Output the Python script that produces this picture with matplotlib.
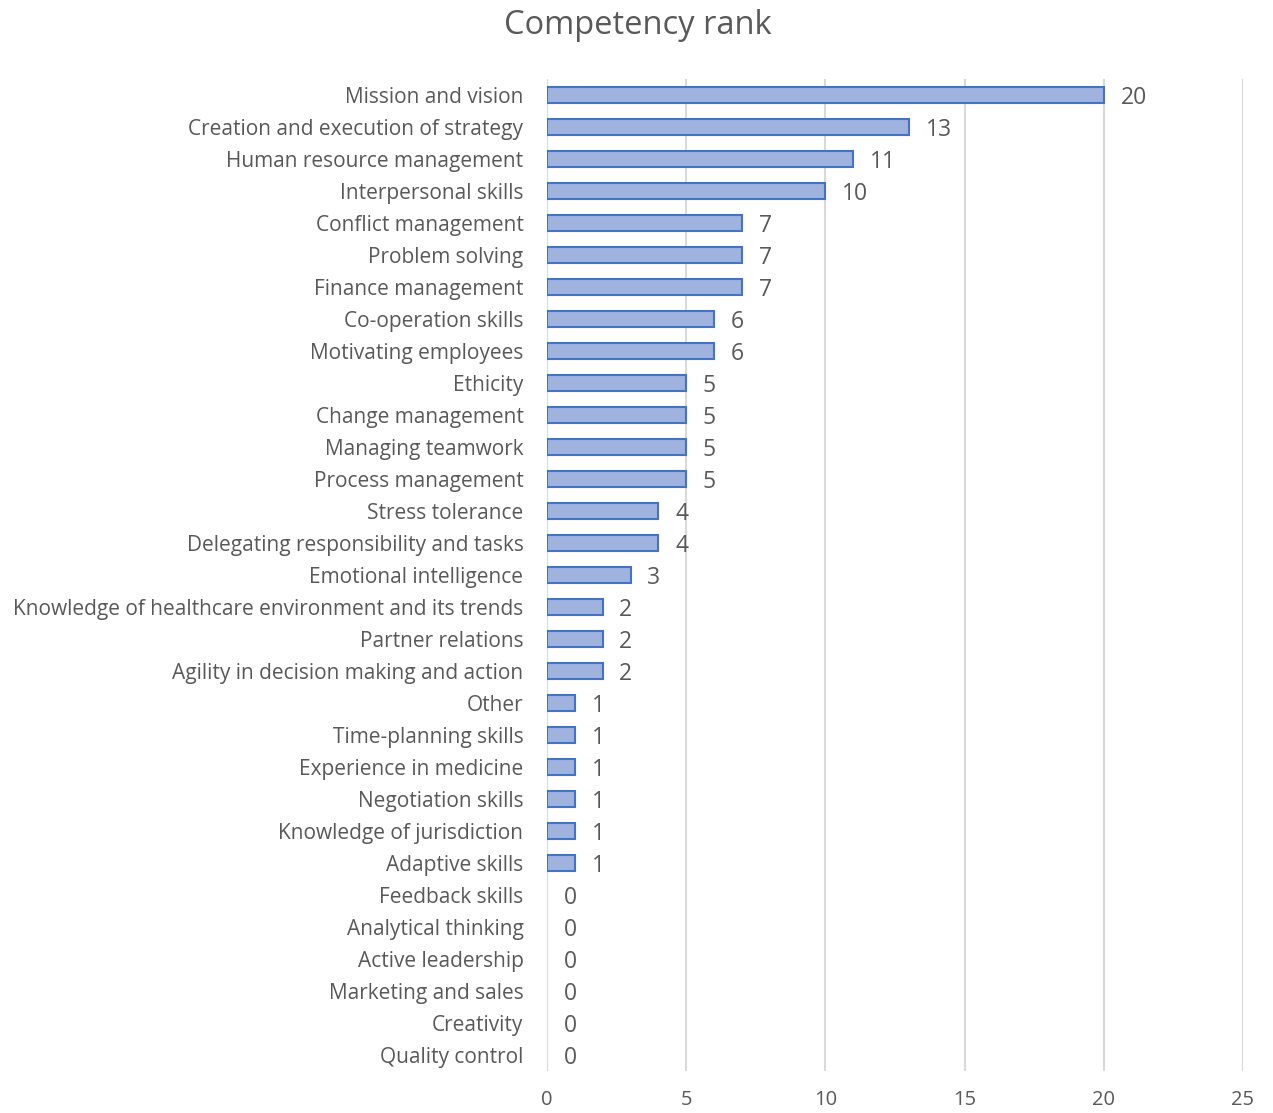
import matplotlib
matplotlib.use("Agg")
import matplotlib.pyplot as plt

categories = ["Mission and vision", "Creation and execution of strategy", "Human resource management",
              "Interpersonal skills", "Conflict management", "Problem solving", "Finance management",
              "Co-operation skills", "Motivating employees", "Ethicity", "Change management",
              "Managing teamwork", "Process management", "Stress tolerance",
              "Delegating responsibility and tasks", "Emotional intelligence",
              "Knowledge of healthcare environment and its trends", "Partner relations",
              "Agility in decision making and action", "Other", "Time-planning skills",
              "Experience in medicine", "Negotiation skills", "Knowledge of jurisdiction",
              "Adaptive skills", "Feedback skills", "Analytical thinking", "Active leadership",
              "Marketing and sales", "Creativity", "Quality control"]
values = [20, 13, 11, 10, 7, 7, 7, 6, 6, 5, 5, 5, 5, 4, 4, 3, 2, 2, 2, 1, 1, 1, 1, 1, 1, 0, 0, 0, 0, 0, 0]
x_ticks = [0, 5, 10, 15, 20, 25]
title = "Competency rank"

plt.rcParams['font.family'] = ['Open Sans', 'DejaVu Sans']
gray = "#595959"

fig = plt.figure(figsize=(12.73, 11.13), dpi=100)
n = len(categories)
ax = fig.add_axes([547/1273, 1 - (95 + 16 + 32*(n-1))/1113, (1243-547)/1273, (32*n)/1113])

pos = list(range(n))
bars = ax.barh(pos, values, height=0.5, color="#A0B2DE", edgecolor="#4472C4", linewidth=1.5, zorder=3)
for b, v in zip(bars, values):
    if v == 0:
        b.set_edgecolor("none")
for p, v in zip(pos, values):
    ax.annotate(str(v), (v, p), xytext=(12, -2.5), textcoords="offset points",
                va="center", ha="left", fontsize=16.5, color=gray)

ax.set_ylim(n - 0.5, -0.5)
ax.set_xlim(0, 25)
ax.set_xticks(x_ticks)
ax.set_yticks(pos)
ax.set_yticklabels(categories)
ax.tick_params(axis='y', length=0, pad=17, labelsize=15, labelcolor=gray)
ax.tick_params(axis='x', length=0, pad=14, labelsize=14.5, labelcolor=gray)
ax.grid(axis='x', color="#D9D9D9", linewidth=1.5, zorder=0)
for s in ax.spines.values():
    s.set_visible(False)
ax.axvline(0, color="#D9D9D9", linewidth=1.5, zorder=1)

fig.text(638/1273, 1 - 25/1113, title, ha="center", va="center", fontsize=23.5, color=gray)

fig.savefig("out.png", dpi=100)
